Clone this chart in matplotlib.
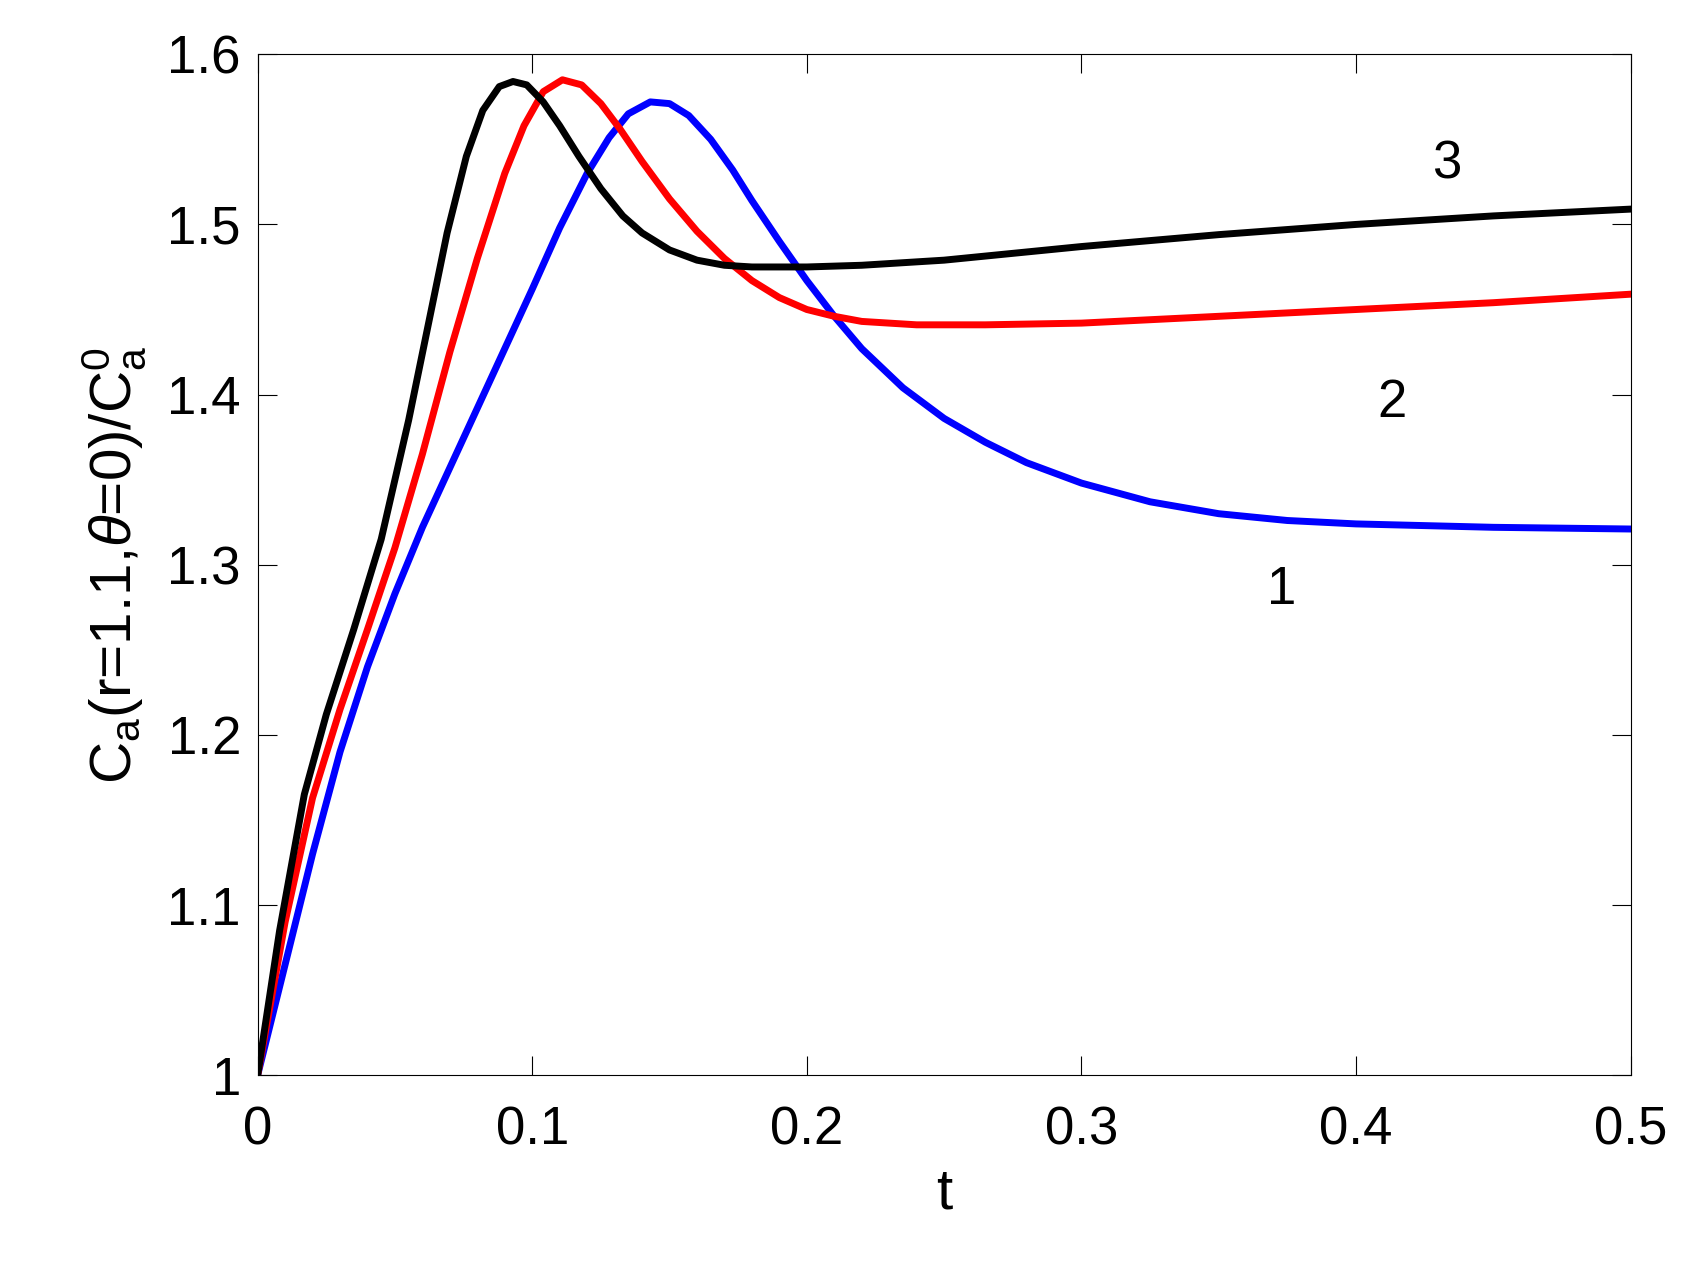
import matplotlib
matplotlib.use("Agg")
import matplotlib.pyplot as plt

plt.rcParams['font.family'] = ['Liberation Sans', 'DejaVu Sans']
plt.rcParams['mathtext.fontset'] = 'custom'
plt.rcParams['mathtext.it'] = 'Liberation Sans:italic'
plt.rcParams['mathtext.rm'] = 'Liberation Sans'

t1 = [0, 0.01, 0.02, 0.03, 0.04, 0.05, 0.06, 0.07, 0.08, 0.09, 0.1, 0.11, 0.12, 0.128, 0.135, 0.143, 0.15, 0.157, 0.165, 0.173, 0.18, 0.19, 0.2, 0.21, 0.22, 0.235, 0.25, 0.265, 0.28, 0.3, 0.325, 0.35, 0.375, 0.4, 0.45, 0.5]
c1 = [1.0, 1.065, 1.13, 1.19, 1.24, 1.283, 1.322, 1.357, 1.392, 1.427, 1.462, 1.498, 1.53, 1.551, 1.565, 1.572, 1.571, 1.564, 1.55, 1.532, 1.514, 1.49, 1.467, 1.446, 1.427, 1.404, 1.386, 1.372, 1.36, 1.348, 1.337, 1.33, 1.326, 1.324, 1.322, 1.321]
t2 = [0, 0.01, 0.02, 0.03, 0.04, 0.05, 0.06, 0.07, 0.08, 0.09, 0.097, 0.104, 0.111, 0.118, 0.125, 0.132, 0.14, 0.15, 0.16, 0.17, 0.18, 0.19, 0.2, 0.21, 0.22, 0.24, 0.265, 0.3, 0.35, 0.4, 0.45, 0.5]
c2 = [1.0, 1.09, 1.163, 1.215, 1.262, 1.31, 1.365, 1.425, 1.48, 1.53, 1.558, 1.578, 1.585, 1.582, 1.571, 1.556, 1.537, 1.515, 1.496, 1.48, 1.467, 1.457, 1.45, 1.446, 1.443, 1.441, 1.441, 1.442, 1.446, 1.45, 1.454, 1.459]
t3 = [0, 0.008, 0.017, 0.025, 0.035, 0.045, 0.055, 0.062, 0.069, 0.076, 0.082, 0.088, 0.093, 0.098, 0.104, 0.11, 0.117, 0.125, 0.133, 0.14, 0.15, 0.16, 0.17, 0.18, 0.2, 0.22, 0.25, 0.3, 0.35, 0.4, 0.45, 0.5]
c3 = [1.0, 1.085, 1.165, 1.212, 1.262, 1.315, 1.385, 1.44, 1.495, 1.54, 1.567, 1.581, 1.584, 1.582, 1.572, 1.558, 1.54, 1.521, 1.505, 1.495, 1.485, 1.479, 1.476, 1.475, 1.475, 1.476, 1.479, 1.487, 1.494, 1.5, 1.505, 1.509]

labels = ["1", "2", "3"]
label_pos = [(0.373, 1.285), (0.413, 1.395), (0.433, 1.535)]

fig = plt.figure(figsize=(16.95, 12.62), dpi=100)
ax = fig.add_axes([0.152, 0.148, 0.810, 0.809])
ax.plot(t1, c1, color='blue', lw=5)
ax.plot(t2, c2, color='red', lw=5)
ax.plot(t3, c3, color='black', lw=5)
for lab, (x, y) in zip(labels, label_pos):
    ax.text(x, y, lab, fontsize=38, ha='center', va='center')
ax.set_xlim(0, 0.5)
ax.set_ylim(1, 1.6)
ax.set_xticks([0, 0.1, 0.2, 0.3, 0.4, 0.5])
ax.set_xticklabels(['0', '0.1', '0.2', '0.3', '0.4', '0.5'])
ax.set_yticks([1, 1.1, 1.2, 1.3, 1.4, 1.5, 1.6])
ax.set_yticklabels(['1', '1.1', '1.2', '1.3', '1.4', '1.5', '1.6'])
ax.tick_params(direction='in', top=True, right=True, labelsize=38, length=14)
ax.tick_params(axis='x', pad=22)
ax.tick_params(axis='y', pad=12)
ax.set_xlabel('t', fontsize=42, labelpad=8)
ax.set_ylabel(r'C$_\mathrm{a}$(r=1.1,$\theta$=0)/C$_\mathrm{a}^\mathrm{0}$', fontsize=42, labelpad=14)
fig.savefig('out.png', dpi=100)
